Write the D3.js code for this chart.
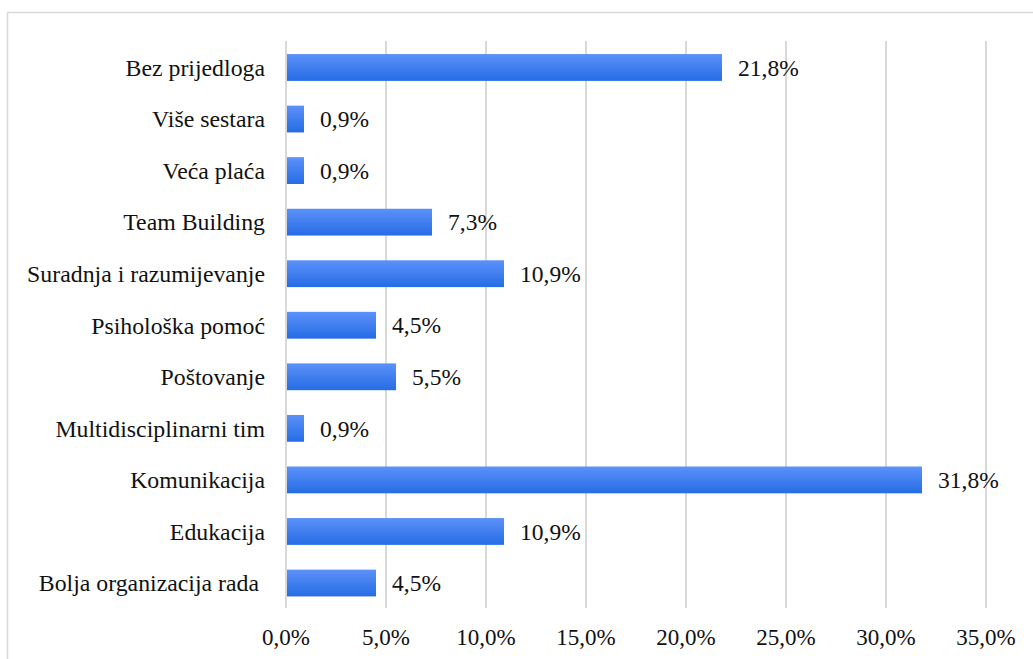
<!DOCTYPE html>
<html><head><meta charset="utf-8">
<script src="https://cdn.jsdelivr.net/npm/d3@7"></script>
<style>body{margin:0;background:#fff}svg{display:block}text{white-space:pre}</style>
</head><body>
<script>
const categories = ["Bez prijedloga","Više sestara","Veća plaća","Team Building","Suradnja i razumijevanje","Psihološka pomoć","Poštovanje","Multidisciplinarni tim","Komunikacija","Edukacija","Bolja organizacija rada "];
const values = [21.8,0.9,0.9,7.3,10.9,4.5,5.5,0.9,31.8,10.9,4.5];
const ticks = [0,5,10,15,20,25,30,35];

const FONT = "'Liberation Serif', 'Times New Roman', Times, 'DejaVu Serif', serif";
const W=1033,H=659;
const svg=d3.select("body").append("svg").attr("width",W).attr("height",H);
const defs=svg.append("defs");
const g=defs.append("linearGradient").attr("id","bg").attr("x1",0).attr("x2",0).attr("y1",0).attr("y2",1);
g.append("stop").attr("offset","0%").attr("stop-color","#5c91f9");
g.append("stop").attr("offset","100%").attr("stop-color","#266ce5");

svg.append("rect").attr("x",7.5).attr("y",12.5).attr("width",W).attr("height",H).attr("fill","none").attr("stroke","#d9d9d9").attr("stroke-width",1.5);

const x=d3.scaleLinear().domain([0,35]).range([286,986]);
const y=d3.scaleBand().domain(categories).range([41.7,608.8]).paddingInner(0.48).paddingOuter(0.24);

svg.append("g").selectAll("line").data(ticks).join("line")
  .attr("x1",d=>x(d)).attr("x2",d=>x(d)).attr("y1",41).attr("y2",608)
  .attr("stroke","#d9d9d9").attr("stroke-width",2);

svg.append("g").selectAll("rect").data(values).join("rect")
  .attr("x",x(0)+1).attr("y",(d,i)=>y(categories[i])).attr("height",y.bandwidth())
  .attr("width",d=>x(d)-x(0)-1).attr("fill","url(#bg)");

function txt(sel,size){ return sel.style("font-family",FONT).style("font-size",size).style("fill","#111"); }

txt(svg.append("g").selectAll("text").data(values).join("text")
  .attr("x",d=>x(d)+16).attr("y",(d,i)=>y(categories[i])+y.bandwidth()/2).attr("dy","0.35em")
  .text(d=>d.toFixed(1).replace(".",",")+"%"),"23.5px");

txt(svg.append("g").selectAll("text").data(categories).join("text")
  .attr("x",265).attr("y",d=>y(d)+y.bandwidth()/2).attr("dy","0.35em").attr("text-anchor","end")
  .text(d=>d),"23.8px");

txt(svg.append("g").selectAll("text").data(ticks).join("text")
  .attr("x",d=>x(d)).attr("y",637).attr("dy","0.35em").attr("text-anchor","middle")
  .text(d=>d.toFixed(1).replace(".",",")+"%"),"23px");
</script>
</body></html>
